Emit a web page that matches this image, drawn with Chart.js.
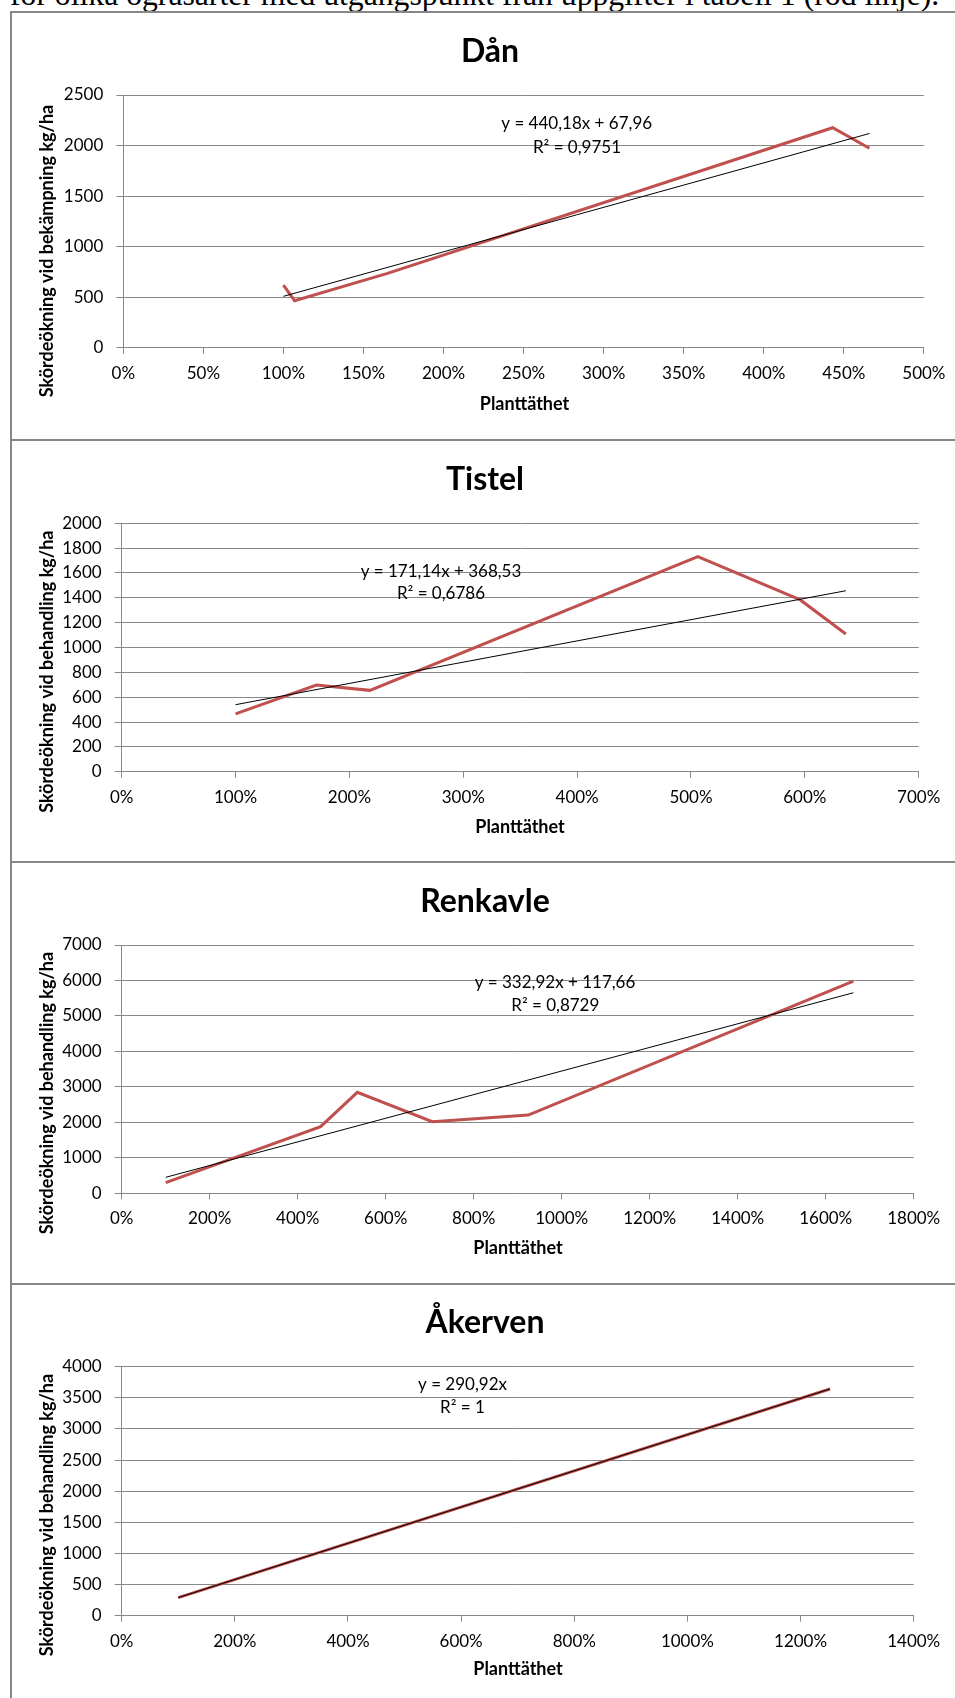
<!DOCTYPE html>
<html lang="sv">
<head>
<meta charset="utf-8">
<script src="https://cdn.jsdelivr.net/npm/chart.js@4/dist/chart.umd.min.js"></script>
<style>
  html, body { margin: 0; padding: 0; background: #fff; width: 955px; height: 1698px; overflow: hidden; position: relative; }
  .lead { position: absolute; left: 10px; top: -21px; font-family: "Liberation Serif", "Times New Roman", serif; font-size: 31.7px; line-height: 31.7px; white-space: nowrap; color: #000; }
  .panel { position: absolute; left: 0; width: 955px; }
  .hline { position: absolute; left: 10px; right: 0; height: 2px; background: #878787; z-index: 2; }
  .vline { position: absolute; left: 10px; top: 12px; width: 2px; bottom: 0; background: #878787; z-index: 2; }
</style>
</head>
<body>
<div class="lead">för olika ogräsarter med utgångspunkt från uppgifter i tabell 1 (röd linje).</div>
<div class="vline"></div>
<div class="hline" style="top:11px"></div>
<div class="hline" style="top:439px"></div>
<div class="hline" style="top:861px"></div>
<div class="hline" style="top:1283px"></div>
<canvas id="c0" class="panel" style="top:12px"></canvas>
<canvas id="c1" class="panel" style="top:440px"></canvas>
<canvas id="c2" class="panel" style="top:862px"></canvas>
<canvas id="c3" class="panel" style="top:1284px"></canvas>
<script>
// Plant density as a fraction (1 = 100 %) and yield increase in kg/ha
const danX = [1.00, 1.07, 1.65, 4.43, 4.66];
const danY = [620, 465, 735, 2176, 1973];
const tistelX = [1.00, 1.71, 2.18, 5.06, 5.96, 6.36];
const tistelY = [465, 698, 655, 1731, 1383, 1109];
const renkavleX = [1.00, 4.52, 5.355, 7.06, 9.24, 16.63];
const renkavleY = [299, 1878, 2847, 2018, 2207, 5984];
const akervenX = [1.00, 12.52];
const akervenY = [291, 3642];

// Linear trendlines y = k·x + m, as printed on each chart
const trendSlope = [440.18, 171.14, 332.92, 290.92];
const trendIntercept = [67.96, 368.53, 117.66, 0];
const eqLabels = ["y = 440,18x + 67,96", "y = 171,14x + 368,53", "y = 332,92x + 117,66", "y = 290,92x"];
const r2Labels = ["R² = 0,9751", "R² = 0,6786", "R² = 0,8729", "R² = 1"];

const titles = ["Dån", "Tistel", "Renkavle", "Åkerven"];
const yTitles = ["Skördeökning vid bekämpning kg/ha", "Skördeökning vid behandling kg/ha",
                 "Skördeökning vid behandling kg/ha", "Skördeökning vid behandling kg/ha"];
const xTitle = "Planttäthet";

// Axis ranges and tick steps
const xMax = [5, 7, 18, 14];
const xStep = [0.5, 1, 2, 2];
const yMax = [2500, 2000, 7000, 4000];
const yStep = [500, 200, 1000, 500];

const seriesX = [danX, tistelX, renkavleX, akervenX];
const seriesY = [danY, tistelY, renkavleY, akervenY];

// Panel geometry (canvas-relative pixels)
const panelH = [428, 422, 422, 414];
const plotBox = [
  { l: 123.3, r: 927.7, t: 83,   b: 335.7 },
  { l: 121.7, r: 918.7, t: 83.3, b: 331.7 },
  { l: 121.7, r: 913.7, t: 83,   b: 331.3 },
  { l: 121.7, r: 913.7, t: 82.7, b: 331.7 }
];
const textPos = [
  { title: [490, 50], yt: [46.7, 239], xt: [524.5, 392],  eq: [576.7, 111.3], r2: [577, 135.7] },
  { title: [485, 50], yt: [46.7, 231.7], xt: [520, 386.7], eq: [441, 131.7],   r2: [441, 154] },
  { title: [485, 50], yt: [46.7, 231], xt: [518, 386.3],   eq: [555, 120.7],   r2: [555.3, 143.7] },
  { title: [485, 49], yt: [46.7, 231], xt: [518, 385],     eq: [462.5, 101],   r2: [462.5, 123.3] }
];

const FONT = "Lato, 'Noto Sans', sans-serif";
const GRID = "#878787";
const X_AXIS_H = 40;

const panelText = {
  id: "panelText",
  afterDraw(chart, args, opts) {
    const ctx = chart.ctx;
    for (const it of opts.items) {
      ctx.save();
      ctx.font = it.font;
      ctx.fillStyle = "#000";
      ctx.textAlign = "center";
      ctx.textBaseline = it.baseline || "middle";
      ctx.translate(it.x, it.y);
      if (it.rotate) ctx.rotate(it.rotate);
      ctx.fillText(it.text, 0, 0);
      ctx.restore();
    }
  }
};

for (let i = 0; i < 4; i++) {
  const xs = seriesX[i], ys = seriesY[i];
  const points = xs.map((x, j) => ({ x: x, y: ys[j] }));
  const x0 = Math.min(...xs), x1 = Math.max(...xs);
  const trend = [x0, x1].map(x => ({ x: x, y: trendSlope[i] * x + trendIntercept[i] }));
  const pb = plotBox[i], tp = textPos[i];

  const canvas = document.getElementById("c" + i);
  canvas.width = 955;
  canvas.height = panelH[i];
  canvas.style.width = "955px";
  canvas.style.height = panelH[i] + "px";

  new Chart(canvas, {
    type: "scatter",
    data: {
      datasets: [
        { data: trend, showLine: true, borderColor: "#000", borderWidth: 1, pointRadius: 0, fill: false },
        { data: points, showLine: true, borderColor: "#C0504D", borderWidth: 3, pointRadius: 0, fill: false,
          borderJoinStyle: "miter" }
      ]
    },
    options: {
      responsive: false,
      animation: false,
      devicePixelRatio: 1,
      events: [],
      layout: { padding: { left: 0, top: pb.t, right: 955 - pb.r, bottom: panelH[i] - pb.b - X_AXIS_H } },
      plugins: {
        legend: { display: false },
        tooltip: { enabled: false },
        title: { display: false },
        panelText: {
          items: [
            { text: titles[i], x: tp.title[0], y: tp.title[1], font: "bold 32px " + FONT, baseline: "alphabetic" },
            { text: yTitles[i], x: tp.yt[0], y: tp.yt[1], font: "bold 18px " + FONT, rotate: -Math.PI / 2 },
            { text: xTitle, x: tp.xt[0], y: tp.xt[1], font: "bold 18px " + FONT },
            { text: eqLabels[i], x: tp.eq[0], y: tp.eq[1], font: "17px " + FONT },
            { text: r2Labels[i], x: tp.r2[0], y: tp.r2[1], font: "17px " + FONT }
          ]
        }
      },
      scales: {
        x: {
          type: "linear",
          min: 0, max: xMax[i],
          afterFit(s) { s.height = X_AXIS_H; },
          ticks: {
            stepSize: xStep[i], autoSkip: false, maxRotation: 0, padding: 9.5,
            color: "#000", font: { family: FONT, size: 17 },
            callback: v => Math.round(v * 100) + "%"
          },
          grid: { drawOnChartArea: false, drawTicks: true, tickLength: 6, color: GRID, lineWidth: 1 },
          border: { color: GRID, width: 1 }
        },
        y: {
          min: 0, max: yMax[i],
          afterFit(s) { s.width = pb.l; },
          ticks: {
            stepSize: yStep[i], padding: 13, color: "#000", font: { family: FONT, size: 17 },
            callback: v => String(v)
          },
          grid: { color: GRID, lineWidth: 1, tickLength: 7 },
          border: { color: GRID, width: 1 }
        }
      }
    },
    plugins: [panelText]
  });
}
</script>
</body>
</html>
